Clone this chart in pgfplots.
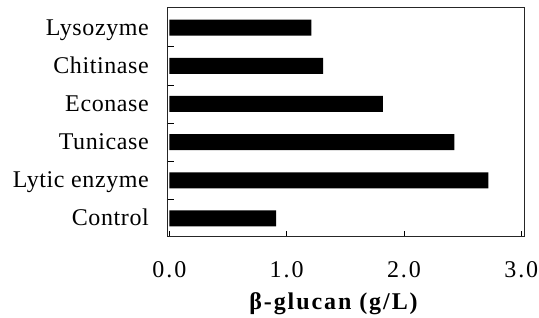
\documentclass[border=0pt]{standalone}
\usepackage{pgfplots}
\pgfplotsset{compat=1.18}
\usepackage{fontspec}
\setmainfont{Liberation Serif}[LetterSpace=2.5]
\newfontfamily\lblfont{Liberation Serif}[LetterSpace=8]
\newfontfamily\tickfont{Liberation Serif}[LetterSpace=8]
\begin{document}
\fontsize{24}{28}\selectfont
\begin{tikzpicture}
\begin{axis}[
  at={(0,0)}, anchor=south west,
  scale only axis, width=357pt, height=229pt,
  xbar, bar width=16pt,
  xmin=-0.02, xmax=3.023, ymin=-0.46, ymax=5.54,
  xtick={0,1,2,3}, xticklabels={0.0,1.0,2.0,3.0},
  ytick={0,1,2,3,4,5},
  yticklabels={Control,Lytic enzyme,Tunicase,Econase,Chitinase,Lysozyme},
  minor ytick={0.5,1.5,2.5,3.5,4.5},
  xtick pos=bottom, ytick pos=left,
  tick align=inside,
  major tick length=5pt, minor tick length=7pt,
  major y tick style={draw=none},
  every tick/.style={black, line width=0.6pt},
  axis line style={line width=0.7pt, black!85},
  xticklabel style={font=\tickfont\fontsize{24}{28}\selectfont, anchor=base, inner sep=0pt, yshift=-42pt},
  yticklabel style={font=\fontsize{24}{28}\selectfont, anchor=base east, inner sep=0pt, xshift=-18pt, yshift=-7.5pt},
  xlabel={\bfseries β-glucan (g/L)},
  xlabel style={font=\lblfont\fontsize{24}{28}\selectfont, at={(axis description cs:0.5,0)}, anchor=base, inner sep=0pt, yshift=-74pt, xshift=-12pt},
]
\addplot[fill=black, draw=none] coordinates {
  (0.91,0) (2.72,1) (2.43,2) (1.82,3) (1.31,4) (1.21,5)
};
\end{axis}
\path (-167pt,-82pt) rectangle (372pt,236pt);
\end{tikzpicture}
\end{document}
